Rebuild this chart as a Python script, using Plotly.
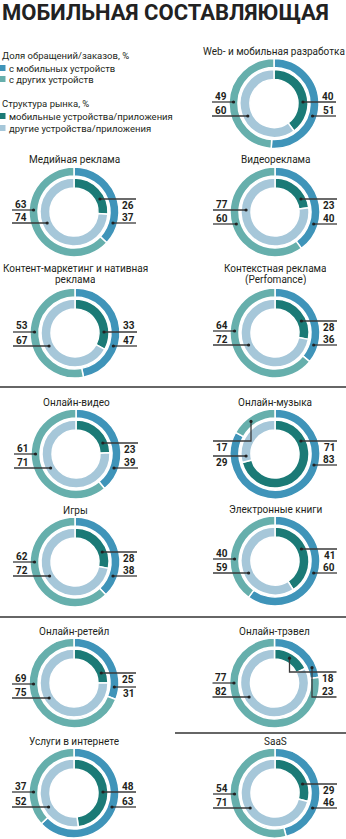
import plotly.graph_objects as go
import math

W, H = 346, 839

# ---------------- data ----------------
categories = [
    "Web- и мобильная разработка", "Медийная реклама", "Видеореклама",
    "Контент-маркетинг и нативная|реклама", "Контекстная реклама|(Perfomance)",
    "Онлайн-видео", "Онлайн-музыка", "Игры", "Электронные книги",
    "Онлайн-ретейл", "Онлайн-трэвел", "Услуги в интернете", "SaaS",
]
orders_mobile = [51, 37, 40, 47, 36, 39, 83, 38, 60, 31, 23, 63, 46]
orders_other = [49, 63, 60, 53, 64, 61, 17, 62, 40, 69, 77, 37, 54]
market_mobile = [40, 26, 23, 33, 28, 23, 71, 28, 41, 25, 18, 48, 29]
market_other = [60, 74, 77, 67, 72, 71, 29, 72, 59, 75, 82, 52, 71]

legend_groups = [
    ("Доля обращений/заказов, %", ["с мобильных устройств", "с других устройств"]),
    ("Структура рынка, %", ["мобильные устройства/приложения", "другие устройства/приложения"]),
]

# ---------------- style / layout ----------------
C_OUT_MOB = "#3f94b9"
C_OUT_OTH = "#66afac"
C_IN_MOB = "#1b7a76"
C_IN_OTH = "#a6c7d9"
TXT = "#231f20"
FONT = "Roboto"

centers = [(274, 103.5), (74, 212), (275, 212), (75, 333), (275, 333),
           (76, 454), (275, 454), (75, 562), (275, 561), (74, 683),
           (274.5, 683), (74, 793), (275, 793)]
R_OUT, R_OUT_IN = 45, 36
R_IN, R_IN_IN = 34, 24
MID = {"outer": 40.5, "inner": 29}
ARM = 62

# label layout: (series, side, line dy, text above/below, elbow dx)
L = {
    0: [("mm", "r", -1.5, "a", None), ("om", "r", 12.5, "a", None), ("oo", "l", -1.5, "a", None), ("mo", "l", 12.5, "a", None)],
    1: [("mm", "r", -13, "b", None), ("om", "r", 11, "a", None), ("oo", "l", -2, "a", None), ("mo", "l", 11, "a", None)],
    2: [("mm", "r", -13, "b", None), ("om", "r", 12, "a", None), ("mo", "l", -2, "a", None), ("oo", "l", 12, "a", None)],
    3: [("mm", "r", -1, "a", None), ("om", "r", 13, "a", None), ("oo", "l", -1, "a", None), ("mo", "l", 13, "a", None)],
    4: [("mm", "r", -12, "b", None), ("om", "r", 12, "a", None), ("oo", "l", -2, "a", None), ("mo", "l", 12, "a", None)],
    5: [("mm", "r", -11, "b", None), ("om", "r", 14, "a", None), ("oo", "l", 0, "a", None), ("mo", "l", 14, "a", None)],
    6: [("mm", "r", -13, "b", None), ("om", "r", 11, "a", None), ("oo", "l", -13, "b", -24), ("mo", "l", 2, "b", None)],
    7: [("mm", "r", -10, "b", None), ("om", "r", 14, "a", None), ("oo", "l", 0, "a", None), ("mo", "l", 14, "a", None)],
    8: [("mm", "r", -12, "b", None), ("om", "r", 12, "a", None), ("oo", "l", -2, "a", None), ("mo", "l", 12, "a", None)],
    9: [("mm", "r", -10, "b", None), ("om", "r", 4, "b", None), ("oo", "l", 1, "a", None), ("mo", "l", 15, "a", None)],
    10: [("mm", "r", -11, "b", 15), ("om", "r", 14, "a", 37.5), ("oo", "l", 0, "a", None), ("mo", "l", 14, "a", None)],
    11: [("mm", "r", -1, "a", None), ("om", "r", 14, "a", None), ("oo", "l", -1, "a", None), ("mo", "l", 14, "a", None)],
    12: [("mm", "r", -9, "b", None), ("om", "r", 15, "a", None), ("oo", "l", 1, "a", None), ("mo", "l", 15, "a", None)],
}
series = {"om": orders_mobile, "oo": orders_other, "mm": market_mobile, "mo": market_other}
ring_of = {"om": "outer", "oo": "outer", "mm": "inner", "mo": "inner"}


def X(x):
    return x / W


def Y(y):
    return 1 - y / H


fig = go.Figure()
shapes = []
annotations = []

for i, (cx, cy) in enumerate(centers):
    fig.add_trace(go.Pie(
        values=[orders_mobile[i], orders_other[i]], sort=False, direction="clockwise",
        rotation=0, hole=R_OUT_IN / R_OUT, textinfo="none", hoverinfo="skip",
        marker=dict(colors=[C_OUT_MOB, C_OUT_OTH], line=dict(color="white", width=1.5)),
        domain=dict(x=[X(cx - R_OUT), X(cx + R_OUT)], y=[Y(cy + R_OUT), Y(cy - R_OUT)]),
    ))
    fig.add_trace(go.Pie(
        values=[market_mobile[i], market_other[i]], sort=False, direction="clockwise",
        rotation=0, hole=R_IN_IN / R_IN, textinfo="none", hoverinfo="skip",
        marker=dict(colors=[C_IN_MOB, C_IN_OTH], line=dict(color="white", width=1.5)),
        domain=dict(x=[X(cx - R_IN), X(cx + R_IN)], y=[Y(cy + R_IN), Y(cy - R_IN)]),
    ))

    # titles
    lines = categories[i].split("|")
    if len(lines) == 1:
        annotations.append(dict(x=X(cx), y=Y(cy - 52), text=lines[0], showarrow=False,
                                xanchor="center", yanchor="middle", xref="paper", yref="paper",
                                font=dict(family=FONT, size=10, color=TXT)))
    else:
        for k, t in enumerate(lines):
            annotations.append(dict(x=X(cx), y=Y(cy - 65 + 11 * k), text=t, showarrow=False,
                                    xanchor="center", yanchor="middle", xref="paper", yref="paper",
                                    height=11, font=dict(family=FONT, size=10, color=TXT)))

    # value labels with leader lines
    for key, side, dy, pos, elbow in L[i]:
        val = series[key][i]
        r = MID[ring_of[key]]
        sgn = 1 if side == "r" else -1
        ly = cy + dy
        xend = cx + sgn * ARM
        if elbow is None:
            dx = math.sqrt(max(r * r - dy * dy, 0))
            dotx, doty = cx + sgn * dx, ly
            shapes.append(dict(type="line", xref="paper", yref="paper", layer="above",
                               x0=X(dotx), y0=Y(ly), x1=X(xend), y1=Y(ly),
                               line=dict(color="#3a3a3a", width=1.3)))
        else:
            ex = cx + elbow
            dyy = -math.sqrt(max(r * r - elbow * elbow, 0))
            if abs(dyy) < 5:
                dyy = -6
            dotx, doty = ex, cy + dyy
            shapes.append(dict(type="path", xref="paper", yref="paper", layer="above",
                               path=f"M {X(xend)} {Y(ly)} L {X(ex)} {Y(ly)} L {X(ex)} {Y(doty)}",
                               line=dict(color="#3a3a3a", width=1.3)))
        shapes.append(dict(type="circle", xref="paper", yref="paper", layer="above",
                           xsizemode="pixel", ysizemode="pixel",
                           xanchor=X(dotx), yanchor=Y(doty), x0=-1.6, x1=1.6, y0=-1.6, y1=1.6,
                           fillcolor="#222", line=dict(width=0)))
        ty = ly - 6 if pos == "a" else ly + 6.5
        annotations.append(dict(x=X(xend + (-0.5 if side == "r" else 0.5)), y=Y(ty),
                                text=f"<b>{val}</b>", showarrow=False,
                                xanchor="right" if side == "r" else "left", yanchor="middle",
                                xref="paper", yref="paper",
                                font=dict(family=FONT, size=10, color=TXT)))

# section dividers
for (x0, x1, y) in [(0, W, 387), (0, W, 617), (175, W, 733)]:
    shapes.append(dict(type="line", xref="paper", yref="paper", x0=X(x0), x1=X(x1),
                       y0=Y(y), y1=Y(y), line=dict(color="#333", width=1.5)))

# main title
annotations.append(dict(x=0, y=Y(13), text="<b>МОБИЛЬНАЯ СОСТАВЛЯЮЩАЯ</b>", showarrow=False,
                        xanchor="left", yanchor="middle", xref="paper", yref="paper",
                        font=dict(family=FONT, size=22, color="#222")))

# legend
legend_y = [[56, 68, 79], [103, 116, 128]]
legend_cols = [[C_OUT_MOB, C_OUT_OTH], [C_IN_MOB, C_IN_OTH]]
for g, (head, items) in enumerate(legend_groups):
    annotations.append(dict(x=0, y=Y(legend_y[g][0]), text=head, showarrow=False,
                            xanchor="left", yanchor="middle", xref="paper", yref="paper",
                            font=dict(family=FONT, size=9.5, color=TXT)))
    for k, it in enumerate(items):
        yy = legend_y[g][k + 1]
        shapes.append(dict(type="rect", xref="paper", yref="paper", x0=X(0), x1=X(5.5),
                           y0=Y(yy + 3), y1=Y(yy - 3), fillcolor=legend_cols[g][k], line=dict(width=0)))
        annotations.append(dict(x=X(7), y=Y(yy), text=it, showarrow=False,
                                xanchor="left", yanchor="middle", xref="paper", yref="paper",
                                font=dict(family=FONT, size=9.5, color=TXT)))

fig.update_layout(width=W, height=H, margin=dict(l=0, r=0, t=0, b=0),
                  paper_bgcolor="white", plot_bgcolor="white", showlegend=False,
                  shapes=shapes, annotations=annotations)
fig.write_html("out.html")
